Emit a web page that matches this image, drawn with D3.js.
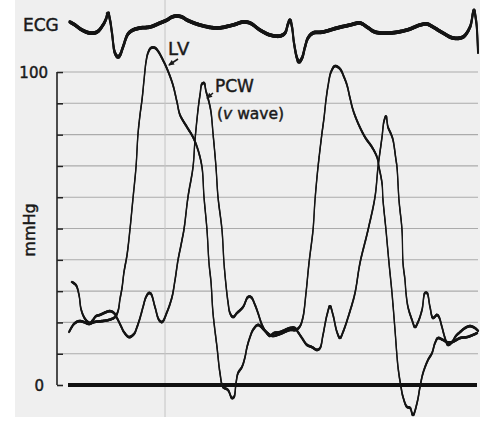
<!DOCTYPE html>
<html>
<head>
<meta charset="utf-8">
<script src="https://cdn.jsdelivr.net/npm/d3@7"></script>
<style>
  html, body { margin: 0; padding: 0; background: #ffffff; }
  svg { display: block; }
  text { font-family: "DejaVu Sans", sans-serif; fill: #1a1a1a; stroke: #1a1a1a; stroke-width: 0.45px; }
</style>
</head>
<body>
<svg id="chart" width="500" height="433"></svg>
<script>
// ---- Data (time in ms, pressure in mmHg, ECG in mV) ----
const yTicks = [0, 10, 20, 30, 40, 50, 60, 70, 80, 90, 100];
const yTickLabels = ["0", "100"];
const timeMarkers = [428];

const ecgT = [48,68,96,128,156,180,192,200,208,216,228,240,248,260,280,300,328,368,408,436,456,476,496,516,568,636,700,740,768,808,848,888,908,920,928,936,944,956,964,976,988,1000,1020,1060,1116,1168,1208,1236,1268,1328,1396,1448,1476,1500,1540,1580,1620,1648,1660,1664,1672,1676,1680];
const ecgV = [0.65,0.5,0.25,0.1,0.15,0.5,0.8,1.1,0.75,0.1,-0.9,-1.1,-1.0,-0.6,0.05,0.25,0.35,0.4,0.6,0.75,0.9,0.95,0.9,0.75,0.5,0.35,0.5,0.65,0.6,0.25,0,-0.05,0.1,0.55,0.75,0.4,-0.4,-1.15,-1.35,-1.15,-0.6,-0.15,0.1,0.15,0.35,0.5,0.6,0.4,0.15,0.1,0.25,0.5,0.55,0.4,0.1,-0.15,-0.1,0.4,1.1,1.25,0.75,0.25,-0.9];

const lvT = [44,64,84,104,124,144,176,204,228,240,248,256,264,276,288,300,312,320,328,336,344,352,360,372,388,400,420,440,460,476,488,516,540,560,576,584,596,604,612,620,636,648,660,680,696,704,712,720,736,748,756,768,780,800,828,856,888,928,952,968,980,992,1004,1020,1028,1040,1056,1064,1072,1080,1092,1108,1128,1144,1156,1168,1180,1200,1228,1256,1276,1284,1296,1300,1312,1324,1336,1348,1360,1372,1380,1396,1408,1420,1436,1448,1460,1480,1496,1508,1520,1540,1556,1576,1608,1636,1660,1676];
const lvP = [16.9,19.5,20.4,20.1,19.5,20.1,20.4,20.8,21.7,23.6,27.5,31.0,36.1,41.5,49.8,59.7,69.6,80.2,86.3,91.1,97.4,103.2,106.1,107.7,107.7,106.7,103.8,100.3,95.8,90.4,86.3,82.4,79.2,75.1,69.6,60.1,49.5,39.0,32.9,23.0,12.1,3.8,-0.6,-1.6,-4.2,-3.8,0.6,3.8,5.8,8.9,12.1,15.3,17.6,19.2,17.3,15.7,16.3,17.6,17.6,18.8,21.7,29.4,39.0,49.5,59.1,69.6,80.5,85.3,91.1,95.5,100.0,101.9,101.0,98.4,95.8,91.7,87.9,83.7,79.2,76.0,72.8,69.6,64.5,59.1,49.5,39.0,29.4,17.6,5.8,-0.6,-3.8,-7.0,-7.3,-9.6,-5.8,-0.6,3.8,8.0,10.2,13.4,15.0,14.4,13.7,13.7,15.0,15.3,16.0,16.6];

const pcwT = [56,72,84,92,104,116,128,140,152,168,184,208,224,236,252,264,284,304,316,328,340,352,364,372,388,404,416,436,456,468,480,492,504,520,540,548,560,568,576,584,592,604,612,620,632,640,656,664,672,680,688,700,716,740,760,772,788,800,816,832,848,864,888,928,948,960,976,996,1016,1036,1048,1060,1076,1088,1100,1116,1128,1140,1168,1188,1208,1240,1268,1280,1296,1304,1312,1320,1332,1340,1352,1356,1364,1376,1380,1388,1392,1400,1416,1428,1440,1456,1468,1476,1488,1500,1516,1524,1536,1548,1560,1576,1592,1608,1628,1648,1668,1680];
const pcwP = [32.9,31.9,28.8,24.3,21.7,20.4,19.8,20.8,22.0,22.4,23.0,23.6,23.0,21.4,18.8,16.9,15.3,16.3,18.5,21.4,24.9,28.1,29.4,29.1,24.9,20.8,20.1,23.3,28.1,33.5,39.9,44.7,49.8,60.1,69.6,78.3,87.9,92.7,96.2,96.5,93.9,90.4,87.2,80.5,69.6,60.1,49.5,39.0,31.9,26.5,23.0,21.7,23.0,24.9,28.1,28.1,25.6,23.0,19.2,16.9,15.7,16.6,16.9,18.2,18.2,16.9,15.0,12.8,12.1,11.2,11.8,16.0,22.4,25.2,22.4,16.9,15.0,16.9,23.6,29.4,39.0,49.5,60.1,69.6,79.2,84.3,85.9,82.4,80.2,78.3,71.9,69.6,59.1,49.5,39.0,33.5,29.4,24.9,20.8,18.5,20.1,24.0,29.4,29.4,24.9,21.4,22.4,21.7,18.5,15.0,12.8,13.7,15.7,16.9,18.2,18.8,18.2,17.3];

// ---- Scales ----
const svg = d3.select("#chart");
const x = d3.scaleLinear().domain([0, 1680]).range([58, 478]);
const y = d3.scaleLinear().domain([0, 100]).range([385, 72]);
const ecgY = d3.scaleLinear().domain([-1, 1]).range([55, 15]);

// scanned paper background
svg.append("rect").attr("x", 15).attr("y", 0).attr("width", 465).attr("height", 417).attr("fill", "#efefef");

// horizontal grid
svg.append("g").selectAll("line").data(yTicks.filter(d => d > 0)).join("line")
  .attr("x1", 63).attr("x2", 478)
  .attr("y1", d => y(d)).attr("y2", d => y(d))
  .attr("stroke", "#ababab").attr("stroke-width", 1.1);

// vertical time marker
svg.append("g").selectAll("line").data(timeMarkers).join("line")
  .attr("x1", d => x(d)).attr("x2", d => x(d))
  .attr("y1", 0).attr("y2", 417)
  .attr("stroke", "#c4c4c4").attr("stroke-width", 1);

// y axis
const yAxis = d3.axisRight(y).tickValues(yTicks).tickSize(6).tickFormat("");
const ga = svg.append("g").attr("transform", "translate(57,0)").call(yAxis);
ga.select(".domain").attr("stroke", "#222").attr("stroke-width", 1.6).attr("d", `M0,${y(100)}V${y(0)}`);
ga.selectAll(".tick line").attr("stroke", "#222").attr("stroke-width", 1.6);

// zero baseline
svg.append("line").attr("x1", x(40)).attr("x2", x(1676)).attr("y1", y(0)).attr("y2", y(0))
  .attr("stroke", "#111").attr("stroke-width", 4);

// tick labels
svg.append("text").attr("x", 48).attr("y", y(100) + 6).attr("text-anchor", "end").attr("font-size", 15).text(yTickLabels[1]);
svg.append("text").attr("x", 44).attr("y", y(0) + 6).attr("text-anchor", "end").attr("font-size", 15).text(yTickLabels[0]);
svg.append("text").attr("transform", "translate(35,230) rotate(-90)").attr("text-anchor", "middle").attr("font-size", 16).text("mmHg");

// traces: pen-recorder look, thinner where the pen moves fast (steep parts)
const lineP = d3.line().x(d => x(d[0])).y(d => y(d[1])).curve(d3.curveCatmullRom.alpha(0.5));
const lineE = d3.line().x(d => x(d[0])).y(d => ecgY(d[1])).curve(d3.curveCatmullRom.alpha(0.5));

function penTrace(dStr, wMin, wMax) {
  const tmp = svg.append("path").attr("d", dStr).attr("fill", "none").attr("stroke", "none");
  const node = tmp.node(), len = node.getTotalLength();
  const step = 1;
  const pts = [];
  for (let s = 0; s <= len; s += step) pts.push(node.getPointAtLength(s));
  pts.push(node.getPointAtLength(len));
  tmp.remove();
  const g = svg.append("g");
  for (let i = 1; i < pts.length; i++) {
    const a = pts[i - 1], b = pts[i];
    const dx = b.x - a.x, dy = b.y - a.y, h = Math.hypot(dx, dy) || 1;
    const flat = Math.abs(dx) / h;
    const w = wMin + (wMax - wMin) * Math.pow(flat, 0.8);
    g.append("line").attr("x1", a.x).attr("y1", a.y).attr("x2", b.x).attr("y2", b.y)
      .attr("stroke", "#151515").attr("stroke-width", w).attr("stroke-linecap", "round");
  }
}
penTrace(lineE(d3.zip(ecgT, ecgV)), 1.8, 3.8);
penTrace(lineP(d3.zip(pcwT, pcwP)), 1.2, 2.7);
penTrace(lineP(d3.zip(lvT, lvP)), 1.2, 2.7);

// labels
svg.append("text").attr("x", 23).attr("y", 31).attr("font-size", 17).text("ECG");
svg.append("text").attr("x", 168).attr("y", 55).attr("font-size", 18).attr("letter-spacing", 1).text("LV");
svg.append("text").attr("x", 215).attr("y", 92).attr("font-size", 17).text("PCW");
const vw = svg.append("text").attr("x", 217).attr("y", 119).attr("font-size", 15.5);
vw.append("tspan").text("(");
vw.append("tspan").attr("font-style", "italic").text("v");
vw.append("tspan").text(" wave)");

// arrows
function arrow(x1, y1, x2, y2) {
  const a = Math.atan2(y2 - y1, x2 - x1), L = 5, w = 2.6;
  svg.append("line").attr("x1", x1).attr("y1", y1).attr("x2", x2).attr("y2", y2)
    .attr("stroke", "#1a1a1a").attr("stroke-width", 1.6);
  const p = [[x2 + Math.cos(a) * 1, y2 + Math.sin(a) * 1],
             [x2 - L * Math.cos(a) + w * Math.sin(a), y2 - L * Math.sin(a) - w * Math.cos(a)],
             [x2 - L * Math.cos(a) - w * Math.sin(a), y2 - L * Math.sin(a) + w * Math.cos(a)]];
  svg.append("path").attr("d", "M" + p.join("L") + "Z").attr("fill", "#1a1a1a");
}
arrow(178, 59, 169, 65);
arrow(213, 93, 207, 98);
</script>
</body>
</html>
